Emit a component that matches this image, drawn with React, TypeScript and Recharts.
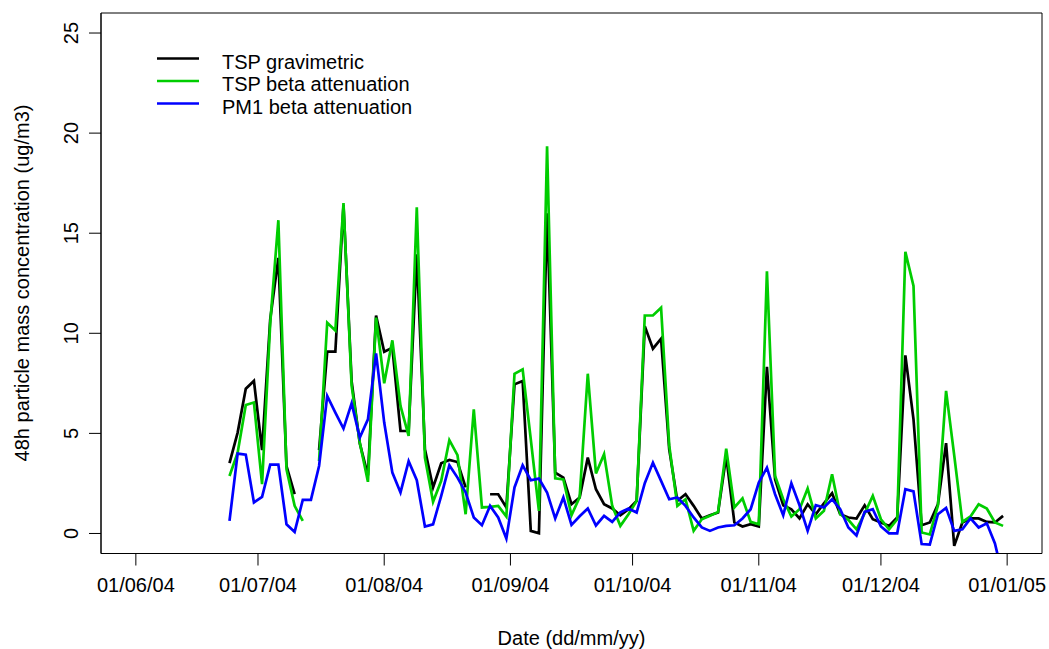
import { LineChart, Line, XAxis, YAxis, ReferenceArea, Legend } from "recharts";

// x positions are days counted from 01/06/04
const monthTicks = [0, 30, 61, 92, 122, 153, 183, 214];
const monthLabels = [
  "01/06/04",
  "01/07/04",
  "01/08/04",
  "01/09/04",
  "01/10/04",
  "01/11/04",
  "01/12/04",
  "01/01/05",
];
const valueTicks = [0, 5, 10, 15, 20, 25];

// one sample every 48 h, first one on 24/06/04
const firstSampleDay = 23;
const sampleStepDays = 2;

const tspGravimetric = [
  3.51, 5.04, 7.23, 7.62, 4.16, 10.7, 13.77, 3.37, 1.96, null,
  null, 4.16, 9.08, 9.08, 16.4, 7.6, 4.5, 2.9, 10.89, 9.08,
  9.28, 5.12, 5.12, 13.94, 4.2, 2.3, 3.51, 3.67, 3.57, 2.3,
  null, null, 1.96, 1.96, 1.3, 7.45, 7.62, 0.13, 0.01, 16.0,
  3.04, 2.79, 1.46, 1.8, 3.79, 2.21, 1.46, 1.25, 0.91, 1.21,
  1.63, 10.36, 9.23, 9.73, 4.2, 1.63, 1.96, 1.38, 0.75, 0.91,
  1.05, 3.87, 0.55, 0.35, 0.46, 0.35, 8.33, 2.71, 1.41, 1.21,
  0.75, 1.46, 0.96, 1.51, 2.01, 0.96, 0.8, 0.75, 1.41, 0.71,
  0.55, 0.38, 0.8, 8.9, 5.7, 0.41, 0.55, 1.46, 4.51, -0.62,
  0.55, 0.75, 0.75, 0.58, 0.55, 0.88,
];

const tspBeta = [
  2.87, 4.04, 6.42, 6.54, 2.46, 10.5, 15.65, 3.21, 1.38, 0.63,
  null, 3.62, 10.53, 10.14, 16.5, 7.37, 4.54, 2.58, 10.78, 7.5,
  9.65, 6.37, 4.87, 16.3, 3.79, 1.58, 2.63, 4.66, 3.91, 0.96,
  6.2, 1.3, 1.33, 1.38, 0.85, 7.98, 8.2, 4.7, 1.13, 19.34,
  2.76, 2.7, 0.91, 1.82, 7.98, 3.0, 3.96, 1.38, 0.38, 0.96,
  1.63, 10.89, 10.89, 11.28, 4.4, 1.38, 1.71, 0.13, 0.71, 0.88,
  1.08, 4.24, 1.3, 1.75, 0.58, 0.46, 13.1, 2.87, 1.71, 0.85,
  1.21, 2.25, 0.75, 1.13, 2.96, 0.96, 0.68, 0.21, 1.0, 1.88,
  0.71, 0.21, 0.71, 14.07, 12.36, 0.05, -0.05, 1.4, 7.12, 3.9,
  0.58, 0.85, 1.46, 1.25, 0.55, 0.38,
];

const pm1Beta = [
  0.63, 3.99, 3.94, 1.55, 1.83, 3.44, 3.44, 0.46, 0.08, 1.68,
  1.68, 3.37, 6.87, 6.04, 5.24, 6.5, 4.79, 5.7, 9.0, 5.54,
  3.04, 2.05, 3.61, 2.66, 0.35, 0.46, 1.88, 3.41, 2.79, 2.05,
  0.8, 0.41, 1.38, 0.8, -0.25, 2.3, 3.41, 2.66, 2.74, 2.05,
  0.75, 1.8, 0.43, 0.86, 1.25, 0.4, 0.88, 0.58, 1.05, 1.25,
  1.05, 2.51, 3.54, 2.63, 1.71, 1.8, 1.38, 0.8, 0.3, 0.13,
  0.3, 0.38, 0.41, 0.75, 1.21, 2.54, 3.29, 1.96, 0.91, 2.51,
  1.41, 0.13, 1.41, 1.3, 1.71, 1.21, 0.3, -0.1, 1.08, 1.21,
  0.35, 0.01, 0.01, 2.21, 2.1, -0.53, -0.56, 0.96, 1.28, 0.13,
  0.21, 0.75, 0.3, 0.51, -0.5, -2.2,
];

const seriesNames = ["TSP gravimetric", "TSP beta attenuation", "PM1 beta attenuation"];
const seriesColors = ["#000000", "#00CD00", "#0000FF"];

const data = tspGravimetric.map((v, i) => ({
  day: firstSampleDay + i * sampleStepDays,
  grav: v,
  tsp: tspBeta[i],
  pm1: pm1Beta[i],
}));

// R style 4% padding around 01/06/04 .. 01/01/05 and 0 .. 25
const xPad = (monthTicks[monthTicks.length - 1] - monthTicks[0]) * 0.04;
const xDomain = [monthTicks[0] - xPad, monthTicks[monthTicks.length - 1] + xPad];
const yDomain = [-1, 26];

const FONT = '"Liberation Sans", Arial, Helvetica, sans-serif';
const FS = 20;

function DateTick(props: any) {
  const { x, payload } = props;
  const i = monthTicks.indexOf(payload.value);
  return (
    <text x={x} y={592} textAnchor="middle" fontSize={FS} fontFamily={FONT} fill="#000">
      {monthLabels[i]}
    </text>
  );
}

function ValueTick(props: any) {
  const { y, payload } = props;
  return (
    <text
      x={78}
      y={y}
      transform={`rotate(-90 78 ${y})`}
      textAnchor="middle"
      fontSize={FS}
      fontFamily={FONT}
      fill="#000"
    >
      {payload.value}
    </text>
  );
}

function renderLegend() {
  return (
    <svg width={450} height={130}>
      {seriesNames.map((name, i) => (
        <g key={name}>
          <line
            x1={157}
            x2={199}
            y1={58.5 + i * 22.5}
            y2={58.5 + i * 22.5}
            stroke={seriesColors[i]}
            strokeWidth={2.7}
          />
          <text x={222} y={68.5 + i * 22.6} fontSize={FS} fontFamily={FONT} fill="#000">
            {name}
          </text>
        </g>
      ))}
    </svg>
  );
}

export default function App() {
  return (
    <div style={{ position: "absolute", left: 0, top: 0, width: 1049, height: 649, background: "#fff" }}>
      <LineChart
        width={1049}
        height={649}
        data={data}
        margin={{ top: 13, right: 7, bottom: 0, left: 0 }}
      >
        <XAxis
          dataKey="day"
          type="number"
          domain={xDomain}
          ticks={monthTicks}
          interval={0}
          allowDataOverflow
          height={95.5}
          tickSize={12}
          tick={DateTick}
          axisLine={{ stroke: "#000" }}
          tickLine={{ stroke: "#000" }}
          label={{
            content: () => (
              <text x={571.5} y={645} textAnchor="middle" fontSize={FS} fontFamily={FONT} fill="#000">
                Date (dd/mm/yy)
              </text>
            ),
          }}
        />
        <YAxis
          type="number"
          domain={yDomain}
          ticks={valueTicks}
          interval={0}
          allowDataOverflow
          width={101}
          tickSize={12}
          tick={ValueTick}
          axisLine={{ stroke: "#000" }}
          tickLine={{ stroke: "#000" }}
          label={{
            content: () => (
              <text
                x={29}
                y={283}
                transform="rotate(-90 29 283)"
                textAnchor="middle"
                fontSize={FS}
                fontFamily={FONT}
                fill="#000"
              >
                48h particle mass concentration (ug/m3)
              </text>
            ),
          }}
        />
        <Line
          dataKey="grav"
          name={seriesNames[0]}
          stroke={seriesColors[0]}
          strokeWidth={2.7}
          dot={false}
          activeDot={false}
          type="linear"
          isAnimationActive={false}
        />
        <Line
          dataKey="tsp"
          name={seriesNames[1]}
          stroke={seriesColors[1]}
          strokeWidth={2.7}
          dot={false}
          activeDot={false}
          type="linear"
          isAnimationActive={false}
        />
        <Line
          dataKey="pm1"
          name={seriesNames[2]}
          stroke={seriesColors[2]}
          strokeWidth={2.7}
          dot={false}
          activeDot={false}
          type="linear"
          isAnimationActive={false}
        />
        <ReferenceArea
          x1={xDomain[0]}
          x2={xDomain[1]}
          y1={yDomain[0]}
          y2={yDomain[1]}
          fill="none"
          stroke="#000"
          strokeWidth={1}
          ifOverflow="visible"
        />
        <Legend
          layout="vertical"
          align="center"
          verticalAlign="middle"
          wrapperStyle={{ left: 0, top: 0, width: 450, height: 130 }}
          content={renderLegend}
        />
      </LineChart>
    </div>
  );
}
